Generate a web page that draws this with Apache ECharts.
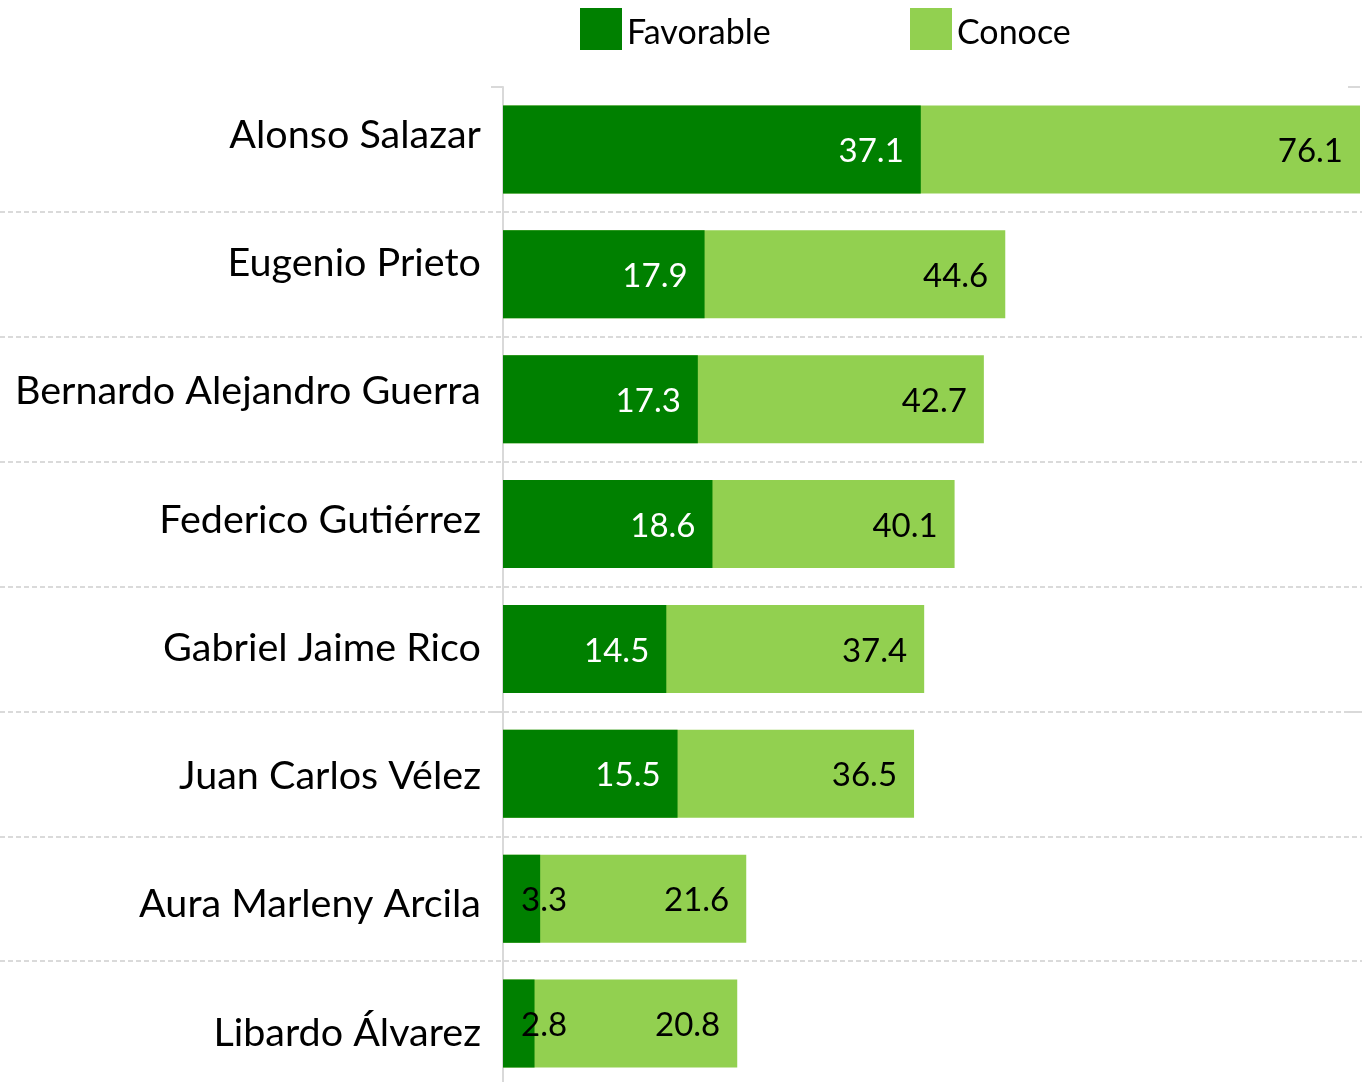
<!DOCTYPE html>
<html>
<head>
<meta charset="utf-8">
<script src="https://cdn.jsdelivr.net/npm/echarts@6/dist/echarts.min.js"></script>
<style>
html,body{margin:0;padding:0;background:#fff;}
#chart{width:1365px;height:1082px;}
</style>
</head>
<body>
<div id="chart"></div>
<script>
const categories = ['Alonso Salazar','Eugenio Prieto','Bernardo Alejandro Guerra','Federico Gutiérrez','Gabriel Jaime Rico','Juan Carlos Vélez','Aura Marleny Arcila','Libardo Álvarez'];
const favorable = [37.1, 17.9, 17.3, 18.6, 14.5, 15.5, 3.3, 2.8];
const conoce = [76.1, 44.6, 42.7, 40.1, 37.4, 36.5, 21.6, 20.8];
const seriesNames = ['Favorable', 'Conoce'];

const FONT = 'Lato';
const AXIS_COLOR = '#d9d9d9';

const favData = favorable.map(v => v < 5
  ? { value: v, label: { position: 'insideLeft', distance: 18, color: '#000' } }
  : { value: v });

const tickInterval = (i) => i === 0 || i === 5;

const legendText = {
  fontSize: 34, color: '#000', fontFamily: FONT,
  rich: { a: { fontSize: 34, color: '#000', fontFamily: FONT, padding: [8, 0, 0, 0] } }
};

const chart = echarts.init(document.getElementById('chart'), null, { renderer: 'canvas' });
chart.setOption({
  animation: false,
  backgroundColor: '#fff',
  legend: [
    { left: 580, top: 8, padding: 0, data: [seriesNames[0]], itemWidth: 42, itemHeight: 42, icon: 'rect', selectedMode: false,
      formatter: '{a|{name}}', textStyle: legendText },
    { left: 910, top: 8, padding: 0, data: [seriesNames[1]], itemWidth: 42, itemHeight: 42, icon: 'rect', selectedMode: false,
      formatter: '{a|{name}}', textStyle: legendText }
  ],
  grid: [
    { left: 503, right: 5, top: 87, height: 999, outerBoundsMode: 'none', containLabel: false },
    { left: 0, right: 3, top: 87, height: 999, outerBoundsMode: 'none', containLabel: false },
    { left: 503, right: 5, top: 71, height: 1026, outerBoundsMode: 'none', containLabel: false }
  ],
  xAxis: [
    { gridIndex: 0, type: 'value', min: 0, max: 'dataMax', show: false },
    { gridIndex: 1, type: 'value', show: false },
    { gridIndex: 2, type: 'value', show: false }
  ],
  yAxis: [
    { gridIndex: 0, type: 'category', data: categories, inverse: true,
      axisLine: { show: true, lineStyle: { color: AXIS_COLOR, width: 2 } },
      axisTick: { show: true, interval: tickInterval, length: 12, lineStyle: { color: AXIS_COLOR, width: 2 } },
      axisLabel: { show: false }, splitLine: { show: false } },
    { gridIndex: 0, type: 'category', data: categories, inverse: true,
      axisLine: { show: false },
      axisTick: { show: true, inside: true, interval: tickInterval, length: 12, lineStyle: { color: AXIS_COLOR, width: 2 } },
      axisLabel: { show: false }, splitLine: { show: false } },
    { gridIndex: 1, type: 'category', data: categories, inverse: true,
      axisLine: { show: false }, axisTick: { show: false }, axisLabel: { show: false },
      splitLine: { show: true, showMinLine: false,
        lineStyle: { color: '#dadada', width: 2, type: [5, 3] } } },
    { gridIndex: 2, type: 'category', data: categories, inverse: true,
      axisLine: { show: false }, axisTick: { show: false }, splitLine: { show: false },
      axisLabel: { show: true, margin: 22, fontSize: 39.5, color: '#000', fontFamily: FONT } }
  ],
  series: [
    { name: seriesNames[1], type: 'bar', xAxisIndex: 0, yAxisIndex: 0, data: conoce,
      barWidth: 88, barGap: '-100%', itemStyle: { color: '#92d050' },
      label: { show: true, position: 'insideRight', distance: 17, offset: [0, 2], color: '#000', fontSize: 33, fontFamily: FONT } },
    { name: seriesNames[0], type: 'bar', xAxisIndex: 0, yAxisIndex: 0, data: favData,
      barWidth: 88, barGap: '-100%', itemStyle: { color: '#008000' },
      label: { show: true, position: 'insideRight', distance: 17, offset: [0, 2], color: '#fff', fontSize: 33, fontFamily: FONT } }
  ]
});
</script>
</body>
</html>
